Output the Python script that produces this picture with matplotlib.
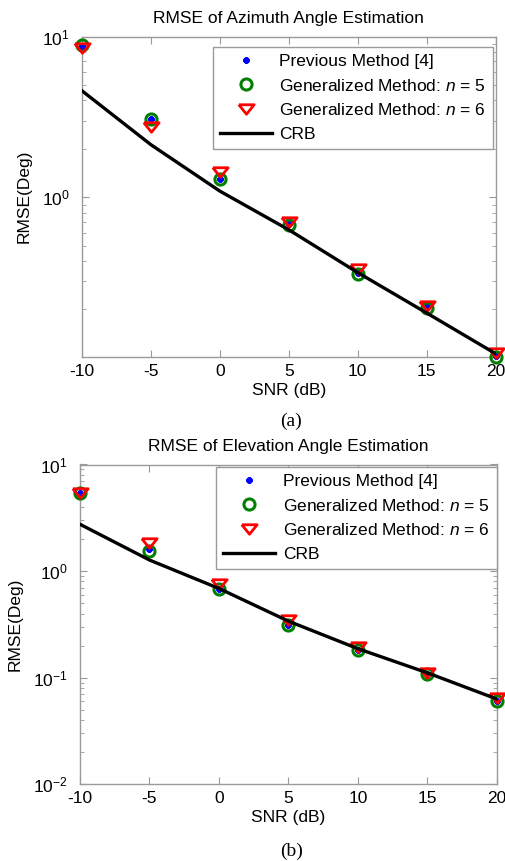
import matplotlib
matplotlib.use("Agg")
import matplotlib.pyplot as plt
import numpy as np

plt.rcParams['font.family'] = ['Liberation Sans', 'DejaVu Sans']
plt.rcParams['mathtext.fontset'] = 'custom'
plt.rcParams['mathtext.rm'] = 'Liberation Sans'
plt.rcParams['mathtext.it'] = 'Liberation Sans:italic'
plt.rcParams['mathtext.default'] = 'regular'

snr = [-10, -5, 0, 5, 10, 15, 20]
xticks = [-10, -5, 0, 5, 10, 15, 20]

# Azimuth
az_prev = [8.7, 3.05, 1.29, 0.68, 0.335, 0.207, 0.102]
az_n5 = [8.9, 3.07, 1.29, 0.675, 0.332, 0.205, 0.1016]
az_n6 = [8.5, 2.73, 1.44, 0.70, 0.356, 0.21, 0.107]
az_crb = [4.59, 2.12, 1.09, 0.626, 0.339, 0.19, 0.106]

# Elevation
el_prev = [5.4, 1.6, 0.68, 0.31, 0.183, 0.109, 0.061]
el_n5 = [5.46, 1.54, 0.673, 0.309, 0.181, 0.109, 0.060]
el_n6 = [5.4, 1.85, 0.76, 0.346, 0.195, 0.111, 0.0646]
el_crb = [2.75, 1.27, 0.687, 0.339, 0.187, 0.111, 0.063]

labels = ['Previous Method [4]',
          r'Generalized Method: $\mathit{n}$ = 5',
          r'Generalized Method: $\mathit{n}$ = 6',
          'CRB']

FS = 12.5
GRAY = '#9a9a9a'
tri = [(-1, 0.62), (1, 0.62), (0, -0.62), (-1, 0.62)]

fig = plt.figure(figsize=(5.06, 8.61), dpi=100)

def draw(ax, prev, n5, n6, crb, title, ylim, leg_anchor):
    ax.plot(snr, prev, linestyle='none', marker=(8, 2, 0), ms=4.5, mew=1.5,
            color='#0000ff', label=labels[0], zorder=3, clip_on=False)
    ax.plot(snr, n5, linestyle='none', marker='o', ms=8, mew=2.2,
            mfc='none', mec='#008000', label=labels[1], zorder=3, clip_on=False)
    ax.plot(snr, n6, linestyle='none', marker=tri, ms=11, mew=2.0,
            mfc='none', mec='#ff0000', label=labels[2], zorder=3, clip_on=False)
    ax.plot(snr, crb, color='black', lw=2.4, label=labels[3], zorder=4)
    ax.set_yscale('log')
    ax.set_xlim(-10, 20)
    ax.set_ylim(*ylim)
    ax.set_xticks(xticks)
    ax.set_xticklabels([str(v) for v in xticks])
    ax.tick_params(axis='both', which='both', direction='in', colors=GRAY,
                   labelcolor='black', labelsize=FS, top=True, right=True)
    ax.tick_params(axis='both', which='major', length=5, width=0.8)
    ax.tick_params(axis='both', which='minor', length=3, width=0.6)
    ax.tick_params(axis='y', which='major', pad=9)
    ax.tick_params(axis='x', which='major', pad=5)
    ax.minorticks_on()
    ax.xaxis.set_minor_locator(matplotlib.ticker.NullLocator())
    for s in ax.spines.values():
        s.set_color(GRAY)
        s.set_linewidth(1.0)
    ax.set_title(title, fontsize=FS, pad=10)
    ax.set_xlabel('SNR (dB)', fontsize=FS, labelpad=3)
    ax.set_ylabel('RMSE(Deg)', fontsize=FS, labelpad=7)
    leg = ax.legend(loc='upper right', bbox_to_anchor=leg_anchor, fontsize=FS,
                    frameon=True, fancybox=False, framealpha=1,
                    edgecolor=GRAY, handlelength=3.0, handletextpad=0.45,
                    borderpad=0.4, labelspacing=0.5, borderaxespad=0)
    leg.get_frame().set_linewidth(1.0)
    leg.set_zorder(5)

ax1 = fig.add_axes([82 / 506, 1 - 356.7 / 861, (495.7 - 82) / 506, (356.7 - 36.5) / 861])
draw(ax1, az_prev, az_n5, az_n6, az_crb, 'RMSE of Azimuth Angle Estimation',
     (0.1016, 10), (0.9935, 0.968))

ax2 = fig.add_axes([80 / 506, 1 - 784.3 / 861, (497 - 80) / 506, (784.3 - 464.5) / 861])
draw(ax2, el_prev, el_n5, el_n6, el_crb, 'RMSE of Elevation Angle Estimation',
     (0.01, 10), (0.9993, 0.993))

fig.text(291.5 / 506, 1 - 421.7 / 861, '(a)', ha='center', va='center',
         fontsize=14, family='Liberation Serif')
fig.text(291.5 / 506, 1 - 851.5 / 861, '(b)', ha='center', va='center',
         fontsize=14, family='Liberation Serif')

fig.savefig('out.png', dpi=100)
